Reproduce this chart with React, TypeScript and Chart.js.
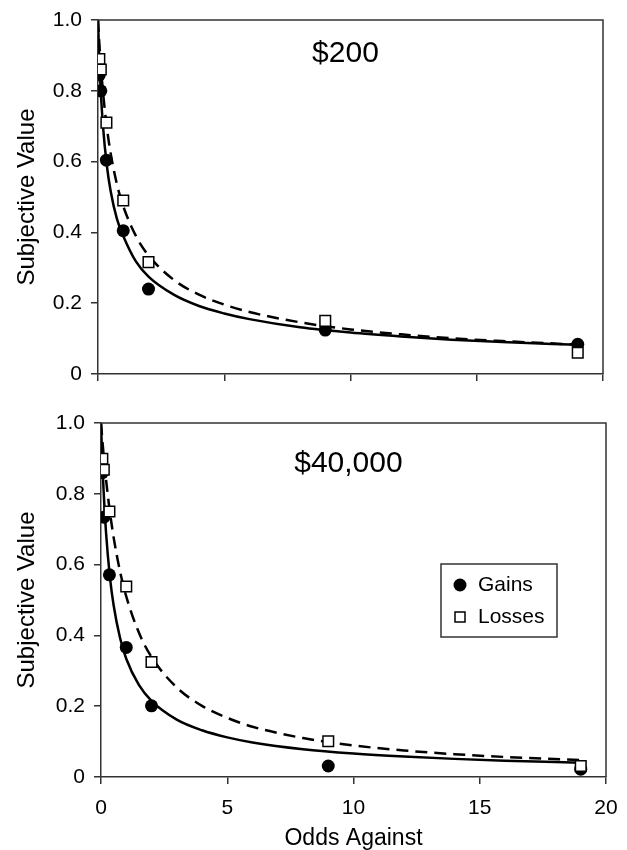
import React, { useEffect, useRef } from "react";
import { Chart, registerables } from "chart.js";

Chart.register(...registerables);

// Odds against (x values of the observed points)
const oddsAgainst = [0.053, 0.111, 0.333, 1, 2, 9, 19];

// $200 panel
const gains200 = [0.845, 0.8, 0.604, 0.405, 0.24, 0.124, 0.084];
const losses200 = [0.89, 0.86, 0.71, 0.49, 0.316, 0.15, 0.06];

// $40,000 panel
const gains40k = [0.86, 0.734, 0.571, 0.366, 0.201, 0.031, 0.022];
const losses40k = [0.899, 0.868, 0.75, 0.538, 0.325, 0.101, 0.031];

// Fitted curves
const curveX = [0, 0.05, 0.1, 0.2, 0.35, 0.5, 0.75, 1, 1.5, 2, 3, 4, 5, 6, 8, 10, 12, 14, 16, 19];
const gainsCurve200 = [1, 0.893, 0.812, 0.698, 0.589, 0.517, 0.438, 0.39, 0.318, 0.275, 0.224, 0.192, 0.171, 0.155, 0.132, 0.117, 0.106, 0.097, 0.0905, 0.0823];
const lossesCurve200 = [1, 0.937, 0.883, 0.795, 0.697, 0.624, 0.536, 0.474, 0.39, 0.335, 0.266, 0.224, 0.196, 0.175, 0.146, 0.126, 0.112, 0.101, 0.093, 0.083];
const gainsCurve40k = [1, 0.895, 0.813, 0.69, 0.567, 0.485, 0.394, 0.334, 0.26, 0.215, 0.162, 0.132, 0.112, 0.0977, 0.0786, 0.0663, 0.0577, 0.0512, 0.0462, 0.0404];
const lossesCurve40k = [1, 0.955, 0.913, 0.84, 0.75, 0.677, 0.582, 0.51, 0.408, 0.339, 0.253, 0.201, 0.167, 0.142, 0.11, 0.0891, 0.0749, 0.0645, 0.0566, 0.0478];

const xTicks = [0, 5, 10, 15, 20];
const yTicks = [0, 0.2, 0.4, 0.6, 0.8, 1.0];
const seriesNames = ["Gains", "Losses"];
const xTitle = "Odds Against";
const yTitle = "Subjective Value";

const FONT = "'Liberation Sans', Arial, Helvetica, sans-serif";
const AXIS = "#333333";

function pts(xs: number[], ys: number[]) {
  return xs.map((x, i) => ({ x, y: ys[i] }));
}

function makeConfig(opts: {
  gains: number[];
  losses: number[];
  gCurve: number[];
  lCurve: number[];
  label: string;
  labelAt: [number, number];
  showXLabels: boolean;
  showLegend: boolean;
  yWidth: number;
  xHeight: number;
  padTop: number;
  padRight: number;
}): any {
  const framePlugin = {
    id: "frame",
    afterDraw(chart: any) {
      const { ctx, chartArea } = chart;
      const xs = chart.scales.x;
      const ys = chart.scales.y;
      ctx.save();
      ctx.strokeStyle = AXIS;
      ctx.lineWidth = 1.5;
      ctx.beginPath();
      ctx.moveTo(chartArea.left, chartArea.top);
      ctx.lineTo(chartArea.right, chartArea.top);
      ctx.lineTo(chartArea.right, chartArea.bottom);
      ctx.stroke();
      // panel label
      ctx.fillStyle = "#000";
      ctx.font = `30px ${FONT}`;
      ctx.textAlign = "center";
      ctx.textBaseline = "middle";
      ctx.fillText(opts.label, xs.getPixelForValue(opts.labelAt[0]), ys.getPixelForValue(opts.labelAt[1]));
      if (opts.showLegend) {
        const w = 116;
        const h = 73;
        const left = chartArea.right - 49 - w;
        const top = chartArea.top + 141;
        ctx.lineWidth = 1.5;
        ctx.strokeStyle = AXIS;
        ctx.fillStyle = "#fff";
        ctx.fillRect(left, top, w, h);
        ctx.strokeRect(left, top, w, h);
        // gains marker
        ctx.fillStyle = "#000";
        ctx.beginPath();
        ctx.arc(left + 19, top + 21, 6.5, 0, Math.PI * 2);
        ctx.fill();
        // losses marker
        ctx.fillStyle = "#fff";
        ctx.strokeStyle = "#000";
        ctx.lineWidth = 1.5;
        ctx.fillRect(left + 14, top + 48, 10, 10);
        ctx.strokeRect(left + 14, top + 48, 10, 10);
        ctx.fillStyle = "#000";
        ctx.font = `21px ${FONT}`;
        ctx.textAlign = "left";
        ctx.textBaseline = "middle";
        ctx.fillText(seriesNames[0], left + 37, top + 21);
        ctx.fillText(seriesNames[1], left + 37, top + 53);
      }
      ctx.restore();
    },
  };

  return {
    type: "scatter",
    data: {
      datasets: [
        {
          label: seriesNames[1],
          data: pts(oddsAgainst, opts.losses),
          pointStyle: "rect",
          pointRadius: 7.5,
          backgroundColor: "#ffffff",
          borderColor: "#000000",
          borderWidth: 1.5,
          showLine: false,
        },
        {
          label: seriesNames[0],
          data: pts(oddsAgainst, opts.gains),
          pointStyle: "circle",
          pointRadius: 6.5,
          backgroundColor: "#000000",
          borderColor: "#000000",
          borderWidth: 0,
          showLine: false,
        },
        {
          label: "Gains fit",
          data: pts(curveX, opts.gCurve),
          showLine: true,
          pointRadius: 0,
          borderColor: "#000000",
          borderWidth: 2.5,
          cubicInterpolationMode: "monotone",
          fill: false,
        },
        {
          label: "Losses fit",
          data: pts(curveX, opts.lCurve),
          showLine: true,
          pointRadius: 0,
          borderColor: "#000000",
          borderWidth: 2.5,
          borderDash: [12, 7],
          cubicInterpolationMode: "monotone",
          fill: false,
        },
      ],
    },
    options: {
      responsive: false,
      animation: false,
      events: [],
      layout: { padding: { top: opts.padTop, right: opts.padRight, left: 0, bottom: 0 } },
      plugins: { legend: { display: false }, tooltip: { enabled: false }, title: { display: false } },
      scales: {
        x: {
          type: "linear",
          min: 0,
          max: 20,
          afterBuildTicks: (s: any) => {
            s.ticks = xTicks.map((v) => ({ value: v }));
          },
          afterFit: (s: any) => {
            s.height = opts.xHeight;
            s.paddingLeft = 0;
            s.paddingRight = 0;
          },
          grid: { display: true, drawOnChartArea: false, drawTicks: true, tickLength: 7, color: AXIS, lineWidth: 1.5 },
          border: { display: true, color: AXIS, width: 1.5 },
          ticks: {
            display: opts.showXLabels,
            color: "#000",
            font: { family: FONT, size: 21 },
            padding: 12,
            maxRotation: 0,
            autoSkip: false,
          },
          title: {
            display: opts.showXLabels,
            text: xTitle,
            color: "#000",
            font: { family: FONT, size: 23 },
            padding: { top: 0, bottom: -2 },
          },
        },
        y: {
          type: "linear",
          min: 0,
          max: 1,
          afterBuildTicks: (s: any) => {
            s.ticks = yTicks.map((v) => ({ value: v }));
          },
          afterFit: (s: any) => {
            s.width = opts.yWidth;
            s.paddingTop = 0;
            s.paddingBottom = 0;
          },
          grid: { display: true, drawOnChartArea: false, drawTicks: true, tickLength: 7, color: AXIS, lineWidth: 1.5 },
          border: { display: true, color: AXIS, width: 1.5 },
          ticks: {
            color: "#000",
            font: { family: FONT, size: 21 },
            padding: 9,
            callback: (v: any) => (v === 0 ? "0" : Number(v).toFixed(1)),
            autoSkip: false,
          },
          title: {
            display: true,
            text: yTitle,
            color: "#000",
            font: { family: FONT, size: 24 },
            padding: { top: 13, bottom: 0 },
          },
        },
      },
    },
    plugins: [framePlugin],
  };
}

function Panel(props: { config: any; width: number; height: number; top: number }) {
  const ref = useRef<HTMLCanvasElement | null>(null);
  useEffect(() => {
    if (!ref.current) return;
    const chart = new Chart(ref.current, props.config);
    return () => chart.destroy();
  }, []);
  return (
    <canvas
      ref={ref}
      width={props.width}
      height={props.height}
      style={{ position: "absolute", left: 0, top: props.top, width: props.width, height: props.height }}
    />
  );
}

export default function App() {
  const topCfg = makeConfig({
    gains: gains200,
    losses: losses200,
    gCurve: gainsCurve200,
    lCurve: lossesCurve200,
    label: "$200",
    labelAt: [9.8, 0.905],
    showXLabels: false,
    showLegend: false,
    yWidth: 98,
    xHeight: 26,
    padTop: 20,
    padRight: 24,
  });
  const botCfg = makeConfig({
    gains: gains40k,
    losses: losses40k,
    gCurve: gainsCurve40k,
    lCurve: lossesCurve40k,
    label: "$40,000",
    labelAt: [9.8, 0.885],
    showXLabels: true,
    showLegend: true,
    yWidth: 101,
    xHeight: 73,
    padTop: 23,
    padRight: 21,
  });
  return (
    <div style={{ position: "absolute", left: 0, top: 0, width: 627, height: 850, background: "#fff" }}>
      <Panel config={topCfg} width={627} height={400} top={0} />
      <Panel config={botCfg} width={627} height={450} top={400} />
    </div>
  );
}
